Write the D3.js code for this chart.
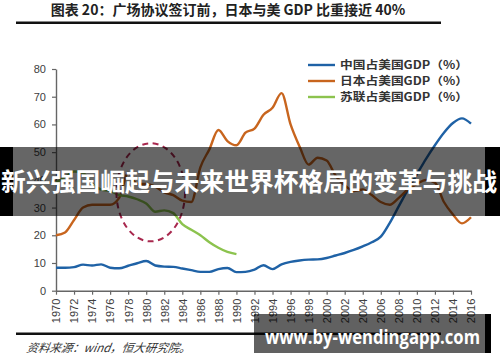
<!DOCTYPE html>
<html>
<head>
<meta charset="utf-8">
<script src="https://cdn.jsdelivr.net/npm/d3@7"></script>
<style>
  html, body { margin: 0; padding: 0; background: #fff; }
  svg { display: block; }
</style>
</head>
<body>
<div id="chart"></div>
<script>
// data (%)
const years = [1970, 1971, 1972, 1973, 1974, 1975, 1976, 1977, 1978, 1979,
  1980, 1981, 1982, 1983, 1984, 1985, 1986, 1987, 1988, 1989,
  1990, 1991, 1992, 1993, 1994, 1995, 1996, 1997, 1998, 1999,
  2000, 2001, 2002, 2003, 2004, 2005, 2006, 2007, 2008, 2009,
  2010, 2011, 2012, 2013, 2014, 2015, 2016];

const chinaValues = [8.3, 8.3, 8.5, 9.4, 9.1, 9.5, 8.3, 8.1, 9.0, 9.9,
  10.7, 9.1, 8.7, 8.6, 8.0, 7.4, 6.8, 6.8, 7.8, 8.2,
  6.7, 6.8, 7.6, 9.2, 7.8, 9.5, 10.4, 10.9, 11.2, 11.3,
  11.8, 12.7, 13.6, 14.7, 16.0, 17.5, 19.5, 24.5, 30.5, 36.5,
  42.0, 47.5, 52.5, 57.0, 60.5, 62.2, 60.3];

const japanValues = [20.0, 21.0, 25.5, 30.0, 31.0, 31.0, 31.0, 33.5, 42.5, 38.5,
  38.5, 37.5, 35.5, 34.5, 32.5, 32.0, 44.5, 51.0, 58.0, 54.0,
  52.5, 57.0, 58.5, 63.5, 66.0, 71.3, 60.0, 52.0, 45.5, 48.0,
  47.0, 41.5, 38.0, 36.0, 36.5, 34.5, 32.0, 31.0, 33.5, 36.5,
  38.5, 40.0, 39.0, 32.0, 27.5, 24.3, 26.5];

// USSR only runs to 1990
const ussrYears = [1970, 1971, 1972, 1973, 1974, 1975, 1976, 1977, 1978, 1979,
  1980, 1981, 1982, 1983, 1984, 1985, 1986, 1987, 1988, 1989, 1990];
const ussrValues = [39.0, 41.0, 43.0, 42.5, 38.5, 36.5, 36.0, 34.5, 34.0, 33.0,
  31.5, 28.5, 29.0, 28.0, 24.0, 22.0, 20.0, 17.5, 15.5, 14.0, 13.2];

const seriesNames = ["中国占美国GDP（%）", "日本占美国GDP（%）", "苏联占美国GDP（%）"];
const seriesColors = ["#1f62a6", "#c8651e", "#8cc34e"];

const yTicks = [0, 10, 20, 30, 40, 50, 60, 70, 80];
const xTicks = [1970, 1972, 1974, 1976, 1978, 1980, 1982, 1984, 1986, 1988, 1990,
  1992, 1994, 1996, 1998, 2000, 2002, 2004, 2006, 2008, 2010, 2012, 2014, 2016];

// circled period around the Plaza Accord run-up
const circleCenter = { year: 1980.5, value: 35.5 };
const circleSpan = { years: 3.8, value: 17.7 };

const titleText = "图表 20：广场协议签订前，日本与美 GDP 比重接近 40%";
const sourceText = "资料来源：wind，恒大研究院。";
const bannerText = "新兴强国崛起与未来世界杯格局的变革与挑战";
const watermarkText = "www.by-wendingapp.com";

// dimensions
const width = 500;
const height = 362;
const plot = { left: 56, right: 471, top: 69, bottom: 290.7 };

const svg = d3.select("#chart")
  .append("svg")
  .attr("width", width)
  .attr("height", height);

const x = d3.scaleLinear().domain([1970, 2016]).range([plot.left, plot.right]);
const y = d3.scaleLinear().domain([0, 80]).range([plot.bottom, plot.top]);

// title + rules
svg.append("text")
  .attr("x", 228)
  .attr("y", 15)
  .attr("text-anchor", "middle")
  .style("font-family", "'Noto Sans CJK SC', sans-serif")
  .style("font-weight", "bold")
  .style("font-size", "14px")
  .style("fill", "#222")
  .text(titleText);

svg.append("rect").attr("x", 16).attr("y", 21.5).attr("width", 425).attr("height", 2.5).attr("fill", "#111");
svg.append("rect").attr("x", 16).attr("y", 332.5).attr("width", 425).attr("height", 2.5).attr("fill", "#111");

svg.append("text")
  .attr("x", 26)
  .attr("y", 352)
  .style("font-family", "'Noto Sans CJK SC', sans-serif")
  .style("font-style", "italic")
  .style("font-size", "11.5px")
  .style("fill", "#333")
  .attr("transform", "skewX(-10) translate(62,0)")
  .text(sourceText);

// axes
const yAxis = svg.append("g")
  .attr("transform", `translate(${plot.left},0)`)
  .call(d3.axisLeft(y).tickValues(yTicks).tickSize(4).tickPadding(6).tickSizeOuter(0));

const xAxis = svg.append("g")
  .attr("transform", `translate(0,${plot.bottom})`)
  .call(d3.axisBottom(x).tickValues(xTicks).tickFormat(d3.format("d")).tickSize(4).tickSizeOuter(0));

xAxis.selectAll("text")
  .attr("transform", "rotate(-90)")
  .attr("x", -8)
  .attr("y", 0)
  .attr("dy", "0.35em")
  .attr("text-anchor", "end");

[xAxis, yAxis].forEach(function (g) {
  g.select(".domain").attr("stroke", "#666").attr("stroke-width", 1.4);
  g.selectAll(".tick line").attr("stroke", "#666").attr("stroke-width", 1.2);
  g.selectAll("text")
    .style("font-family", "'Liberation Sans', Arial, sans-serif")
    .style("font-size", "11px")
    .style("fill", "#404040");
});

// lines
const line = d3.line()
  .x(function (d) { return x(d[0]); })
  .y(function (d) { return y(d[1]); })
  .curve(d3.curveMonotoneX);

const series = [
  d3.zip(years, chinaValues),
  d3.zip(years, japanValues),
  d3.zip(ussrYears, ussrValues)
];

svg.append("g")
  .selectAll("path")
  .data(series)
  .enter()
  .append("path")
  .attr("d", line)
  .attr("fill", "none")
  .attr("stroke", function (d, i) { return seriesColors[i]; })
  .attr("stroke-width", 2.4)
  .attr("stroke-linejoin", "round");

// dashed circle
svg.append("ellipse")
  .attr("cx", x(circleCenter.year))
  .attr("cy", y(circleCenter.value))
  .attr("rx", x(circleCenter.year + circleSpan.years) - x(circleCenter.year))
  .attr("ry", y(circleCenter.value) - y(circleCenter.value + circleSpan.value))
  .attr("fill", "none")
  .attr("stroke", "#a8284e")
  .attr("stroke-width", 2)
  .attr("stroke-dasharray", "6,4.5");

// legend
const legend = svg.append("g")
  .selectAll("g")
  .data(seriesNames)
  .enter()
  .append("g")
  .attr("transform", function (d, i) { return `translate(308,${65 + i * 16})`; });

legend.append("line")
  .attr("x1", 0).attr("x2", 27)
  .attr("stroke", function (d, i) { return seriesColors[i]; })
  .attr("stroke-width", 2.4);

legend.append("text")
  .attr("x", 32)
  .attr("dy", "0.36em")
  .attr("textLength", 128)
  .attr("lengthAdjust", "spacingAndGlyphs")
  .style("font-family", "'Noto Sans CJK SC', sans-serif")
  .style("font-weight", "bold")
  .style("font-size", "11px")
  .style("fill", "#333")
  .text(function (d) { return d; });

// overlay banner across the middle
svg.append("rect").attr("x", 13).attr("y", 147).attr("width", 472).attr("height", 69).attr("fill", "rgba(0,0,0,0.6)");
svg.append("rect").attr("x", 0).attr("y", 147).attr("width", 13).attr("height", 69).attr("fill", "#000");
svg.append("rect").attr("x", 485).attr("y", 147).attr("width", 15).attr("height", 69).attr("fill", "#000");

svg.append("text")
  .attr("x", 249)
  .attr("y", 191)
  .attr("text-anchor", "middle")
  .attr("textLength", 496)
  .attr("lengthAdjust", "spacingAndGlyphs")
  .style("font-family", "'Noto Sans CJK SC', sans-serif")
  .style("font-weight", "bold")
  .style("font-size", "25px")
  .style("fill", "#fff")
  .text(bannerText);

// watermark box bottom right
svg.append("rect").attr("x", 254).attr("y", 314).attr("width", 231).attr("height", 39).attr("fill", "rgba(0,0,0,0.62)");
svg.append("rect").attr("x", 485).attr("y", 314).attr("width", 6).attr("height", 39).attr("fill", "#000");

svg.append("text")
  .attr("x", 265)
  .attr("y", 344)
  .attr("textLength", 215)
  .attr("lengthAdjust", "spacingAndGlyphs")
  .style("font-family", "'Open Sans', sans-serif")
  .style("font-weight", "bold")
  .style("font-size", "20px")
  .style("fill", "#fff")
  .text(watermarkText);
</script>
</body>
</html>
